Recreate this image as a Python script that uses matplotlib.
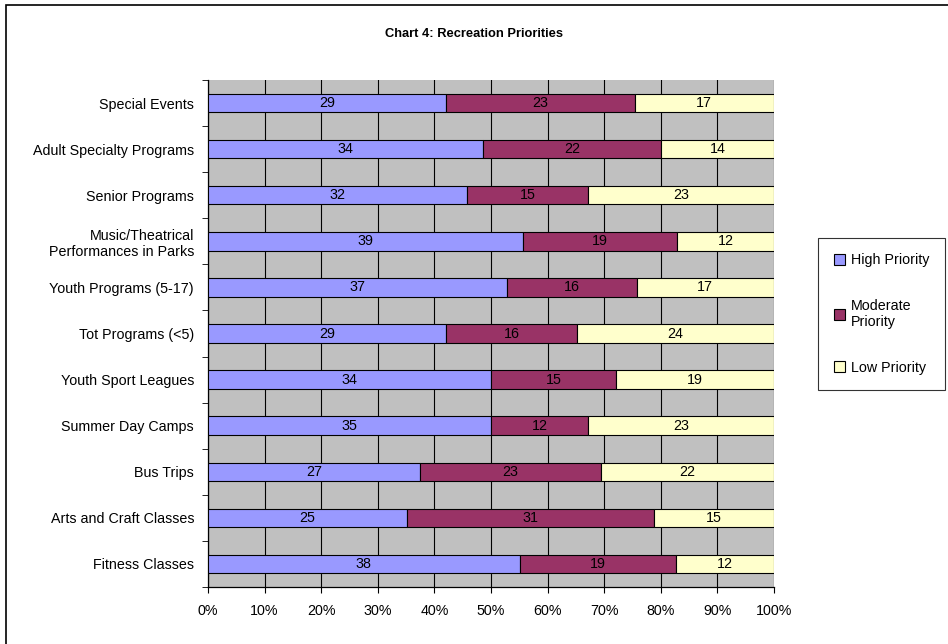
import numpy as np
import matplotlib.pyplot as plt
from matplotlib.patches import Rectangle

plt.rcParams['font.family'] = ['Liberation Sans', 'DejaVu Sans']

categories = ['Fitness Classes', 'Arts and Craft Classes', 'Bus Trips',
              'Summer Day Camps', 'Youth Sport Leagues', 'Tot Programs (<5)',
              'Youth Programs (5-17)', 'Music/Theatrical\nPerformances in Parks',
              'Senior Programs', 'Adult Specialty Programs', 'Special Events']
high = [38, 25, 27, 35, 34, 29, 37, 39, 32, 34, 29]
moderate = [19, 31, 23, 12, 15, 16, 16, 19, 15, 22, 23]
low = [12, 15, 22, 23, 19, 24, 17, 12, 23, 14, 17]

series = [('High Priority', high, '#9999FF'),
          ('Moderate\nPriority', moderate, '#993366'),
          ('Low Priority', low, '#FFFFCC')]

fig = plt.figure(figsize=(9.48, 6.44), dpi=100)
ax = fig.add_axes([208/948, 1-587/644, (774-208)/948, (587-80)/644])

totals = np.array(high) + np.array(moderate) + np.array(low)
y = np.arange(len(categories))
left = np.zeros(len(categories))
for name, vals, col in series:
    pct = np.array(vals) / totals * 100
    ax.barh(y, pct, left=left, height=0.4, color=col, edgecolor='black',
            linewidth=0.8, label=name, zorder=3)
    for yi, l, p, v in zip(y, left, pct, vals):
        ax.text(l + p/2, yi, str(v), ha='center', va='center', fontsize=10.3, zorder=4)
    left += pct

ax.set_facecolor('#C0C0C0')
ax.set_xlim(0, 100)
ax.set_ylim(-0.5, len(categories) - 0.5)
ax.set_xticks(np.arange(0, 101, 10))
ax.set_xticklabels([f'{t}%' for t in range(0, 101, 10)], fontsize=10.3)
ax.xaxis.grid(True, color='black', linewidth=0.8, zorder=1)
ax.set_axisbelow(True)

ax.set_yticks(y)
ax.set_yticklabels(categories, fontsize=10.3)
ax.tick_params(axis='y', length=0, pad=10)
ax.set_yticks(np.arange(-0.5, len(categories)), minor=True)
ax.tick_params(axis='y', which='minor', length=4, direction='out')
ax.tick_params(axis='x', length=4, direction='out', pad=8)

for s in ['top', 'right']:
    ax.spines[s].set_visible(False)
ax.spines['left'].set_linewidth(0.9)
ax.spines['bottom'].set_linewidth(0.9)

fig.text(0.5, 1-34/644, 'Chart 4: Recreation Priorities', ha='center', va='center',
         fontsize=9.3, fontweight='bold')

leg = ax.legend(loc='center left', bbox_to_anchor=(818/948, 1-314/644),
                bbox_transform=fig.transFigure, frameon=True, fancybox=False,
                edgecolor='black', fontsize=10.3, handlelength=0.8, handleheight=0.8,
                labelspacing=2.2, borderpad=1.1, handletextpad=0.4, borderaxespad=0)
leg.get_frame().set_linewidth(0.8)

fig.patches.append(Rectangle((6/948, -0.1), 1.1, 1 - 5/644 + 0.1, transform=fig.transFigure,
                             fill=False, edgecolor='black', linewidth=1.2))

fig.savefig('out.png', dpi=100)
